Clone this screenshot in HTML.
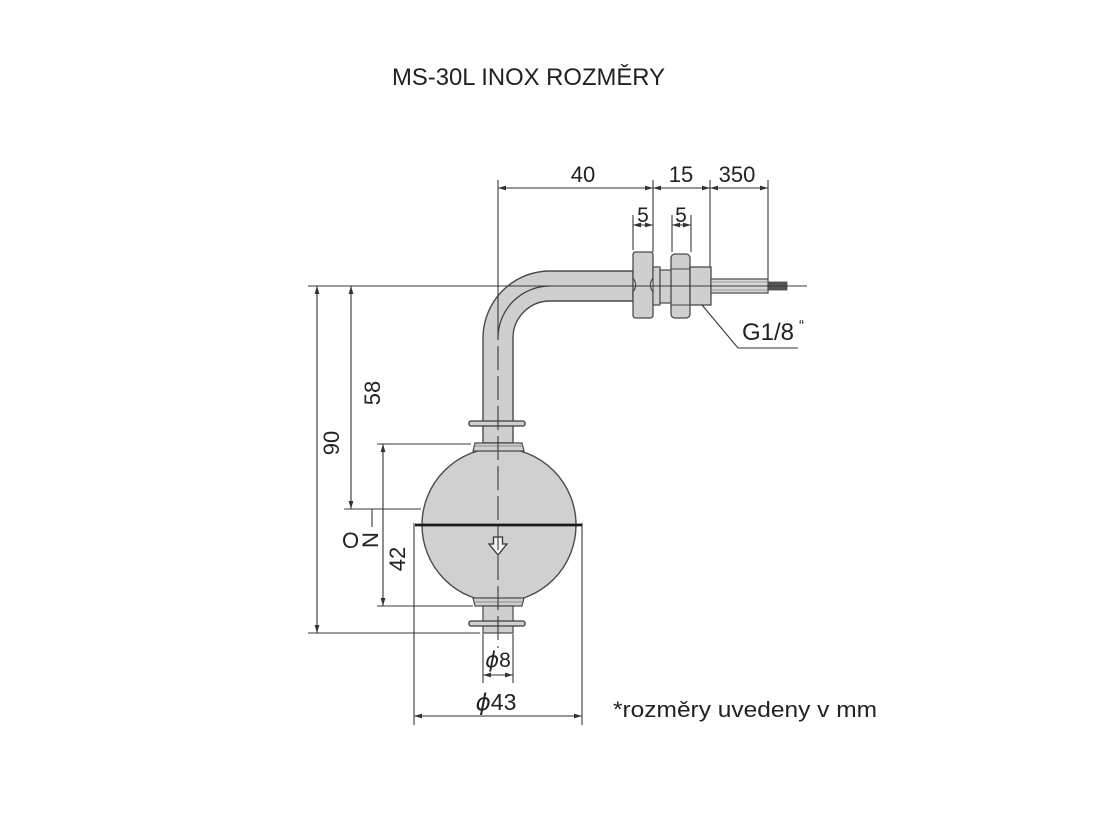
<!DOCTYPE html>
<html>
<head>
<meta charset="utf-8">
<style>
  html, body { margin: 0; padding: 0; background: #fff; }
  svg { display: block; }
  text { font-family: "Liberation Sans", "DejaVu Sans", sans-serif; fill: #222; }
</style>
</head>
<body>
<svg width="1100" height="830" viewBox="0 0 1100 830" xmlns="http://www.w3.org/2000/svg">
  <defs>
    <marker id="ar" viewBox="0 0 10 6" refX="10" refY="3" markerWidth="8" markerHeight="5" markerUnits="userSpaceOnUse" orient="auto-start-reverse">
      <path d="M0,0 L10,3 L0,6 z" fill="#333"/>
    </marker>
  </defs>
  <rect width="1100" height="830" fill="#fff"/>

  <!-- Title -->
  <text x="392" y="85" font-size="24" textLength="273" lengthAdjust="spacingAndGlyphs" fill="#111">MS-30L INOX ROZMĚRY</text>

  <!-- Pipe (bent) -->
  <path d="M633 271 H550 A67 67 0 0 0 483 338 V443 H513 V338 A37 37 0 0 1 550 301 H633 Z" fill="#cfcfcf" stroke="#4a4a4a" stroke-width="1.4"/>
  <!-- pipe centre bend -->
  <path d="M550 286 A52 52 0 0 0 498 338" fill="none" stroke="#3a3a3a" stroke-width="1.2"/>

  <!-- Upper washer -->
  <rect x="469" y="421" width="56" height="5" rx="2" fill="#cfcfcf" stroke="#3a3a3a" stroke-width="1.3"/>

  <!-- Sphere -->
  <circle cx="499" cy="525" r="77" fill="#d0d0d0" stroke="#4a4a4a" stroke-width="1.4"/>
  <!-- top collar -->
  <path d="M475 443 H522 L524 451 H473 Z" fill="#cfcfcf" stroke="#4a4a4a" stroke-width="1.2"/>
  <line x1="474" y1="446" x2="523" y2="446" stroke="#777" stroke-width="0.8"/>
  <!-- bottom collar -->
  <path d="M473 598 H524 L522 606 H475 Z" fill="#cfcfcf" stroke="#4a4a4a" stroke-width="1.2"/>
  <line x1="474" y1="602" x2="523" y2="602" stroke="#777" stroke-width="0.8"/>
  <!-- bottom stem -->
  <rect x="483" y="606" width="30" height="27" fill="#cfcfcf" stroke="#4a4a4a" stroke-width="1.2"/>
  <!-- bottom washer -->
  <rect x="469" y="621" width="56" height="5" rx="2" fill="#cfcfcf" stroke="#3a3a3a" stroke-width="1.3"/>

  <!-- equator -->
  <line x1="415" y1="525" x2="582" y2="525" stroke="#1a1a1a" stroke-width="2.8"/>

  <!-- hollow arrow -->
  <path d="M493.5 537 H502.5 V544 H507 L498 555 L489 544 H493.5 Z" fill="#f2f2f2" stroke="#333" stroke-width="1.3"/>

  <!-- Nut 1 -->
  <path d="M636 252 H650 Q653 252 653 255 V278 Q648 285 653 292 V315 Q653 318 650 318 H636 Q633 318 633 315 V292 Q638 285 633 278 V255 Q633 252 636 252 Z" fill="#cfcfcf" stroke="#4a4a4a" stroke-width="1.3"/>
  <!-- thread/flange parts -->
  <rect x="653" y="267" width="7" height="38" fill="#cfcfcf" stroke="#4a4a4a" stroke-width="1.2"/>
  <rect x="660" y="270" width="12" height="33" fill="#cfcfcf" stroke="#4a4a4a" stroke-width="1.2"/>
  <!-- Nut 2 -->
  <rect x="671" y="254" width="19" height="64" rx="4" fill="#cfcfcf" stroke="#4a4a4a" stroke-width="1.3"/>
  <line x1="671" y1="269" x2="690" y2="269" stroke="#4a4a4a" stroke-width="1.1"/>
  <line x1="671" y1="305" x2="690" y2="305" stroke="#4a4a4a" stroke-width="1.1"/>
  <!-- body -->
  <rect x="690" y="267" width="21" height="38" fill="#cfcfcf" stroke="#4a4a4a" stroke-width="1.3"/>
  <!-- wire -->
  <rect x="711" y="279" width="57" height="14" fill="#d6d6d6" stroke="#4a4a4a" stroke-width="1.2"/>
  <line x1="711" y1="282" x2="768" y2="282" stroke="#888" stroke-width="0.8"/>
  <line x1="711" y1="290" x2="768" y2="290" stroke="#888" stroke-width="0.8"/>
  <rect x="768" y="282" width="19" height="8" fill="#555" stroke="#444" stroke-width="0.8"/>

  <!-- Centre lines -->
  <line x1="308" y1="286" x2="807" y2="286" stroke="#3a3a3a" stroke-width="1.1"/>
  <line x1="498" y1="180" x2="498" y2="340" stroke="#3a3a3a" stroke-width="1.1"/>
  <line x1="498" y1="346" x2="498" y2="648" stroke="#3a3a3a" stroke-width="1.1" stroke-dasharray="24 6"/>

  <!-- Top dimension extension lines -->
  <g stroke="#3a3a3a" stroke-width="1.1" fill="none">
    <line x1="653" y1="180" x2="653" y2="252"/>
    <line x1="710" y1="180" x2="710" y2="267"/>
    <line x1="768" y1="180" x2="768" y2="279"/>
    <line x1="633" y1="215" x2="633" y2="250"/>
    <line x1="672" y1="215" x2="672" y2="252"/>
    <line x1="691" y1="215" x2="691" y2="252"/>
  </g>
  <!-- Top dimension lines -->
  <g stroke="#333" stroke-width="1.1" fill="none">
    <line x1="498" y1="188" x2="653" y2="188" marker-start="url(#ar)" marker-end="url(#ar)"/>
    <line x1="653" y1="188" x2="710" y2="188" marker-start="url(#ar)" marker-end="url(#ar)"/>
    <line x1="710" y1="188" x2="768" y2="188" marker-start="url(#ar)" marker-end="url(#ar)"/>
    <line x1="633" y1="225" x2="653" y2="225" marker-start="url(#ar)" marker-end="url(#ar)"/>
    <line x1="672" y1="225" x2="691" y2="225" marker-start="url(#ar)" marker-end="url(#ar)"/>
  </g>
  <text x="583" y="182" font-size="22" text-anchor="middle">40</text>
  <text x="681" y="182" font-size="22" text-anchor="middle">15</text>
  <text x="737" y="182" font-size="22" text-anchor="middle">350</text>
  <text x="643" y="222" font-size="21" text-anchor="middle">5</text>
  <text x="681" y="222" font-size="21" text-anchor="middle">5</text>

  <!-- G1/8 leader -->
  <polyline points="702,305 738,348 798,348" fill="none" stroke="#333" stroke-width="1.1"/>
  <text x="742" y="340" font-size="24">G1/8</text>
  <text x="799" y="330" font-size="15">“</text>

  <!-- Left dimensions -->
  <g stroke="#3a3a3a" stroke-width="1.1" fill="none">
    <line x1="308" y1="633" x2="480" y2="633"/>
    <line x1="344" y1="509" x2="421" y2="509"/>
    <line x1="377" y1="444" x2="471" y2="444"/>
    <line x1="377" y1="606" x2="473" y2="606"/>
    <line x1="372" y1="509" x2="372" y2="527"/>
  </g>
  <g stroke="#333" stroke-width="1.1" fill="none">
    <line x1="317" y1="286" x2="317" y2="633" marker-start="url(#ar)" marker-end="url(#ar)"/>
    <line x1="351" y1="286" x2="351" y2="509" marker-start="url(#ar)" marker-end="url(#ar)"/>
    <line x1="383" y1="444" x2="383" y2="606" marker-start="url(#ar)" marker-end="url(#ar)"/>
  </g>
  <text transform="translate(331,443) rotate(-90)" x="0" y="8" font-size="22" text-anchor="middle">90</text>
  <text transform="translate(372,393) rotate(-90)" x="0" y="8" font-size="22" text-anchor="middle">58</text>
  <text transform="translate(397,559) rotate(-90)" x="0" y="8" font-size="22" text-anchor="middle">42</text>
  <!-- ON -->
  <text x="342" y="548" font-size="22">O</text>
  <text transform="translate(370.5,540) rotate(90)" x="0" y="8" font-size="22" text-anchor="middle">N</text>

  <!-- Bottom dimensions -->
  <g stroke="#3a3a3a" stroke-width="1.1" fill="none">
    <line x1="483" y1="634" x2="483" y2="683"/>
    <line x1="513" y1="634" x2="513" y2="683"/>
    <line x1="414" y1="523" x2="414" y2="725"/>
    <line x1="582" y1="523" x2="582" y2="725"/>
  </g>
  <g stroke="#333" stroke-width="1.1" fill="none">
    <line x1="483" y1="675" x2="513" y2="675" marker-start="url(#ar)" marker-end="url(#ar)"/>
    <line x1="414" y1="716" x2="582" y2="716" marker-start="url(#ar)" marker-end="url(#ar)"/>
  </g>
  <text x="498" y="667" font-size="21" text-anchor="middle"><tspan font-style="italic" font-family="DejaVu Sans, sans-serif">ϕ</tspan>8</text>
  <text x="496" y="710" font-size="23" text-anchor="middle"><tspan font-style="italic" font-family="DejaVu Sans, sans-serif">ϕ</tspan>43</text>

  <!-- Footnote -->
  <text x="613" y="717" font-size="22" textLength="264" lengthAdjust="spacingAndGlyphs" fill="#111">*rozměry uvedeny v mm</text>
</svg>
</body>
</html>
